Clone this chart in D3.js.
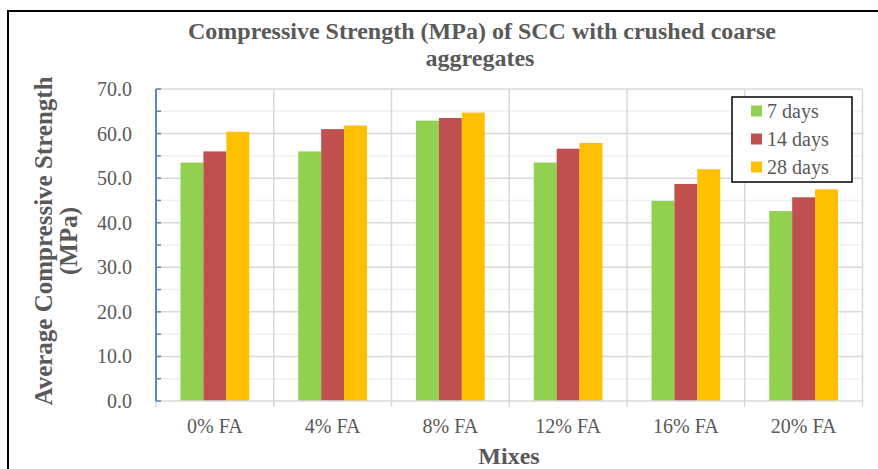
<!DOCTYPE html>
<html><head><meta charset="utf-8">
<script src="https://cdn.jsdelivr.net/npm/d3@7"></script>
<style>html,body{margin:0;padding:0;background:#fff;overflow:hidden}
svg text{font-family:"Liberation Serif","Times New Roman",Times,serif;}</style>
</head><body><svg id="c" width="878" height="469"></svg>
<script>
const categories = ["0% FA","4% FA","8% FA","12% FA","16% FA","20% FA"];
const seriesNames = ["7 days","14 days","28 days"];
const days7  = [53.5, 56.0, 62.9, 53.5, 44.9, 42.6];
const days14 = [56.0, 61.0, 63.5, 56.6, 48.7, 45.7];
const days28 = [60.4, 61.8, 64.7, 57.9, 52.0, 47.5];
const colors = ["#92d050","#c0504d","#ffc000"];
const yTicks = [0,10,20,30,40,50,60,70];
const yMinor = [5,15,25,35,45,55,65];

const series = [days7, days14, days28];
const svg = d3.select("#c");
const L = 156, R = 862.5, T = 89, B = 401;
const x0 = d3.scaleBand().domain(categories).range([L, R]).padding(0);
const x1 = d3.scaleBand().domain(seriesNames).range([0, x0.bandwidth()]).paddingInner(0).paddingOuter(1.07);
const y = d3.scaleLinear().domain([0,70]).range([B, T]);
const grey = "#595959";

// border
svg.append("rect").attr("x",8).attr("y",11).attr("width",900).attr("height",500)
  .attr("fill","none").attr("stroke","#000").attr("stroke-width",2);

// minor gridlines
svg.append("g").selectAll("line").data(yMinor).join("line")
  .attr("x1",L).attr("x2",R).attr("y1",d=>y(d)).attr("y2",d=>y(d))
  .attr("stroke","#f0f0f0").attr("stroke-width",1.5);
// major gridlines
svg.append("g").selectAll("line").data(yTicks.filter(d=>d>0)).join("line")
  .attr("x1",L).attr("x2",R).attr("y1",d=>y(d)).attr("y2",d=>y(d))
  .attr("stroke","#d9d9d9").attr("stroke-width",1.5);
// vertical gridlines at category boundaries
const bounds = categories.map(c=>x0(c)).concat([R]).slice(1);
svg.append("g").selectAll("line").data(bounds).join("line")
  .attr("x1",d=>d).attr("x2",d=>d).attr("y1",T).attr("y2",B)
  .attr("stroke","#d9d9d9").attr("stroke-width",1.5);

// bars
const g = svg.append("g");
series.forEach((vals,si)=>{
  g.selectAll(null).data(vals).join("rect")
    .attr("x",(d,i)=>x0(categories[i])+x1(seriesNames[si]))
    .attr("width",x1.bandwidth())
    .attr("y",d=>y(d)).attr("height",d=>B-y(d))
    .attr("fill",colors[si]);
});

// bottom axis line + ticks
svg.append("line").attr("x1",L).attr("x2",R).attr("y1",B).attr("y2",B)
  .attr("stroke","#d9d9d9").attr("stroke-width",1.5);
svg.append("g").selectAll("line").data(categories.map(c=>x0(c)).concat([R])).join("line")
  .attr("x1",d=>d).attr("x2",d=>d).attr("y1",B).attr("y2",B+6)
  .attr("stroke","#d9d9d9").attr("stroke-width",1.5);

// left axis (blue) with inward ticks
svg.append("line").attr("x1",L).attr("x2",L).attr("y1",T).attr("y2",B)
  .attr("stroke","#5b86c5").attr("stroke-width",2);
svg.append("g").selectAll("line").data(yTicks.concat(yMinor)).join("line")
  .attr("x1",L).attr("x2",L+5).attr("y1",d=>y(d)).attr("y2",d=>y(d))
  .attr("stroke","#5b86c5").attr("stroke-width",1.5);

// y tick labels
svg.append("g").selectAll("text").data(yTicks).join("text")
  .attr("x",132).attr("y",d=>y(d)).attr("dy","0.35em")
  .attr("text-anchor","end").attr("font-size",20)
  .attr("fill",grey).text(d=>d.toFixed(1));

// x labels
svg.append("g").selectAll("text").data(categories).join("text")
  .attr("x",d=>x0(d)+x0.bandwidth()/2).attr("y",433)
  .attr("text-anchor","middle").attr("font-size",20)
  .attr("fill",grey).text(d=>d);

// title
const title = svg.append("text").attr("text-anchor","middle")
  .attr("font-weight","bold").attr("font-size",24).attr("fill",grey);
title.append("tspan").attr("x",482).attr("y",39)
  .attr("textLength",588).attr("lengthAdjust","spacingAndGlyphs")
  .text("Compressive Strength (MPa) of SCC with crushed coarse");
title.append("tspan").attr("x",480).attr("y",66)
  .text("aggregates");

// axis titles
svg.append("text").attr("x",509).attr("y",464).attr("text-anchor","middle")
  .attr("font-weight","bold").attr("font-size",24).attr("fill",grey).text("Mixes");
const yt = svg.append("text").attr("transform","translate(0,241) rotate(-90)")
  .attr("text-anchor","middle").attr("font-weight","bold")
  .attr("font-size",25).attr("fill",grey);
yt.append("tspan").attr("x",0).attr("y",52).text("Average Compressive Strength");
yt.append("tspan").attr("x",0).attr("y",77).text("(MPa)");

// legend
svg.append("rect").attr("x",732).attr("y",97).attr("width",120).attr("height",85)
  .attr("fill","#fff").attr("stroke","#000").attr("stroke-width",1.5);
const lg = svg.append("g").selectAll("g").data(seriesNames).join("g")
  .attr("transform",(d,i)=>`translate(751,${111+i*28})`);
lg.append("rect").attr("x",0).attr("y",-5.5).attr("width",11).attr("height",11).attr("fill",(d,i)=>colors[i]);
lg.append("text").attr("x",16).attr("y",0).attr("dy","0.35em")
  .attr("font-size",20).attr("fill",grey).text(d=>d);
</script></body></html>
